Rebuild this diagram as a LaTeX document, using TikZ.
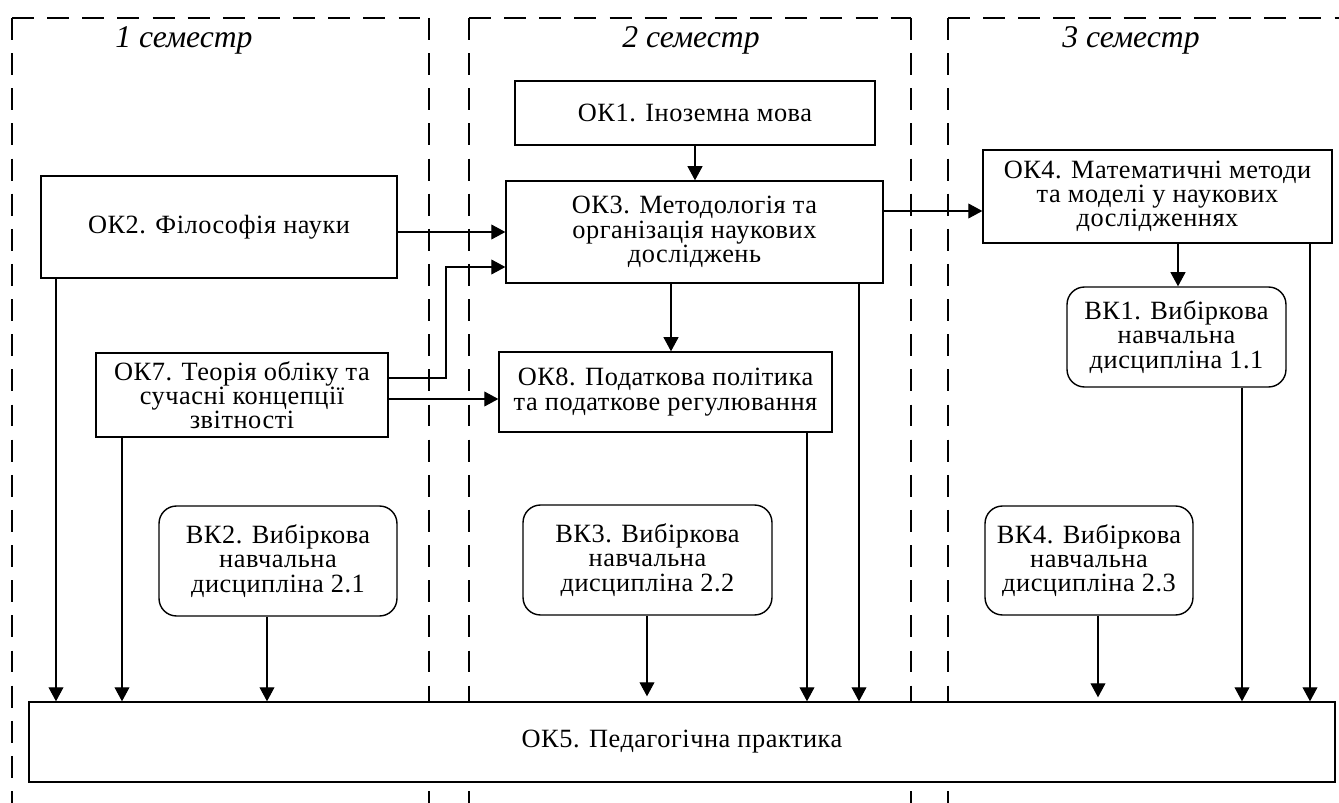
\documentclass[tikz,border=0pt]{standalone}
\usepackage{fontspec}
\setmainfont{Liberation Serif}[LetterSpace=2]
\newfontfamily\titlefam{Liberation Serif}
\usetikzlibrary{arrows.meta}
\newcommand\mybodyfont{\fontsize{15}{13.8}\selectfont}
\newcommand\mytitlefont{\titlefam\fontsize{18}{20}\selectfont\itshape}
\begin{document}
\begin{tikzpicture}[x=0.02cm,y=-0.02cm,
  box/.style={draw, line width=0.8pt, fill=white, inner sep=0pt, align=center, font=\mybodyfont},
  vkbox/.style={box, rounded corners=0.35cm},
  frame/.style={line width=1.6pt, dash pattern=on 12.5pt off 7.5pt},
  conn/.style={line width=0.6pt, -{Triangle[length=8pt,width=8.5pt]}},
  title/.style={font=\mytitlefont, anchor=base, inner sep=0pt}]
\useasboundingbox (0,0) rectangle (1339,803);
% semester frames
\draw[frame] (12,18) -- (12,803);
\draw[frame] (12,18) -- (429,18);
\draw[frame] (429,18) -- (429,803);
\draw[frame] (469,18) -- (469,803);
\draw[frame] (469,18) -- (911,18);
\draw[frame] (911,18) -- (911,803);
\draw[frame] (948,18) -- (948,803);
\draw[frame] (948,18) -- (1339,18);
% titles
\node[title] (t1) at (184,48) {1 семестр};
\node[title] (t2) at (691,48) {2 семестр};
\node[title] (t3) at (1131,48) {3 семестр};
% boxes
\node[box, minimum width=7.2cm, minimum height=1.28cm] (ok1) at (695,113) {ОК1. Іноземна мова};
\node[box, minimum width=7.54cm, minimum height=2.04cm] (ok3) at (694.5,232) {ОК3. Методологія та\\організація наукових\\досліджень};
\node[box, minimum width=7.12cm, minimum height=2.04cm] (ok2) at (219,227) {ОК2. Філософія науки};
\node[box, minimum width=5.84cm, minimum height=1.68cm] (ok7) at (242,395) {ОК7. Теорія обліку та\\сучасні концепції\\звітності};
\node[box, minimum width=6.66cm, minimum height=1.6cm] (ok8) at (665.5,392) {ОК8. Податкова політика\\та податкове регулювання};
\node[box, minimum width=6.98cm, minimum height=1.86cm] (ok4) at (1157.5,196.5) {ОК4. Математичні методи\\та моделі у наукових\\дослідженнях};
\node[vkbox, minimum width=4.38cm, minimum height=2cm] (vk1) at (1176.5,337) {ВК1. Вибіркова\\навчальна\\дисципліна 1.1};
\node[vkbox, minimum width=4.76cm, minimum height=2.2cm] (vk2) at (278,561) {ВК2. Вибіркова\\навчальна\\дисципліна 2.1};
\node[vkbox, minimum width=4.98cm, minimum height=2.2cm] (vk3) at (647.5,560) {ВК3. Вибіркова\\навчальна\\дисципліна 2.2};
\node[vkbox, minimum width=4.16cm, minimum height=2.18cm] (vk4) at (1089,560.5) {ВК4. Вибіркова\\навчальна\\дисципліна 2.3};
\node[box, minimum width=26.12cm, minimum height=1.6cm] (ok5) at (682,742) {ОК5. Педагогічна практика};
% connectors
\draw[conn] (ok1.south) -- (ok1.south |- ok3.north);
\draw[conn] (ok2.east |- 0,232) -- (ok3.west |- 0,232);
\draw[conn] (ok7.east |- 0,378) -| (446,267) -- (ok3.west |- 0,267);
\draw[conn] (ok7.east |- 0,399) -- (ok8.west |- 0,399);
\draw[conn] (ok3.south -| 671,0) -- (ok8.north -| 671,0);
\draw[conn] (ok3.east |- 0,211) -- (ok4.west |- 0,211);
\draw[conn] (ok4.south -| 1178,0) -- (vk1.north -| 1178,0);
\draw[conn] (ok2.south -| 56,0) -- (ok5.north -| 56,0);
\draw[conn] (ok7.south -| 122,0) -- (ok5.north -| 122,0);
\draw[conn] (vk2.south -| 267,0) -- (ok5.north -| 267,0);
\draw[conn, shorten >=0.1cm] (vk3.south -| 647,0) -- (ok5.north -| 647,0);
\draw[conn] (ok8.south -| 807,0) -- (ok5.north -| 807,0);
\draw[conn] (ok3.south -| 859,0) -- (ok5.north -| 859,0);
\draw[conn, shorten >=0.08cm] (vk4.south -| 1098,0) -- (ok5.north -| 1098,0);
\draw[conn] (vk1.south -| 1242,0) -- (ok5.north -| 1242,0);
\draw[conn] (ok4.south -| 1310,0) -- (ok5.north -| 1310,0);
\end{tikzpicture}
\end{document}
